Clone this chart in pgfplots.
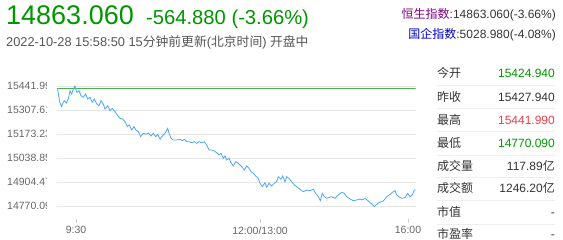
\documentclass[border=0pt]{standalone}
\usepackage{pgfplots}
\pgfplotsset{compat=1.18}
\usepackage{fontspec}
\setmainfont{Liberation Sans}
\newfontfamily\cjk{Noto Sans CJK SC}
\definecolor{upgreen}{RGB}{0,150,0}
\definecolor{txtgray}{RGB}{85,85,85}
\definecolor{dark}{RGB}{51,51,51}
\definecolor{lineblue}{RGB}{77,166,255}
\definecolor{refgreen}{RGB}{76,175,80}
\definecolor{hsipurple}{RGB}{128,0,128}
\definecolor{hsceblue}{RGB}{0,0,204}
\definecolor{highred}{RGB}{245,60,70}
\definecolor{gridgray}{RGB}{230,230,230}
\definecolor{sepgray}{RGB}{238,238,238}
\newcommand\cl[1]{\tikz[baseline=0pt]{\path[use as bounding box] (0pt,-3pt) rectangle (40pt,9pt); \clip (0pt,-3pt) rectangle (40pt,9pt); \node[anchor=base west, inner sep=0pt] at (0pt,0pt) {#1};}}
\begin{document}
\begin{tikzpicture}[x=1pt,y=1pt]
\path[use as bounding box] (0,0) rectangle (563,240);
\begin{axis}[
  at={(57pt,17pt)}, anchor=south west,
  scale only axis, width=358.5pt, height=139pt,
  xmin=0, xmax=358.5, ymin=14677.96, ymax=15454.28,
  axis x line*=bottom, axis y line*=left,
  axis line style={draw=none},
  scaled y ticks=false,
  xtick={19,203,351},
  xticklabels={9:30,12:00/13:00,16:00},
  tick align=inside,
  major tick length=4pt,
  xtick style={draw=black!20, line width=0.8pt},
  ytick={14770.09,14904.47,15038.85,15173.23,15307.61,15441.99},
  yticklabels={\cl{14770.090},\cl{14904.470},\cl{15038.850},\cl{15173.230},\cl{15307.610},\cl{15441.990}},
  ytick style={draw=none},
  ymajorgrids=true,
  major grid style={draw=gridgray, line width=0.8pt},
  yticklabel style={anchor=east, inner sep=0pt, font=\fontsize{10.5}{12}\selectfont, text=black!60},
  xticklabel style={font=\fontsize{10.5}{12}\selectfont, text=black!60},
]
\addplot[refgreen, line width=0.8pt] coordinates {(0,15427.94) (358.5,15427.94)};
\addplot[lineblue, line width=0.8pt] coordinates {
(0.5,15429.14) (2.7,15353.75) (4.5,15328.61) (6,15348.16) (7.3,15361.01) (9.5,15348.16)
(11.3,15370.50) (13,15416.86) (14.7,15398.43) (16.3,15426.35) (18,15441.99) (19.7,15407.92)
(22,15416.86) (24,15388.93) (26.3,15380.00) (28.7,15398.43) (30.7,15370.50) (33,15380.00)
(35.3,15352.07) (37.3,15370.50) (39.7,15342.58) (42,15333.08) (44,15361.01) (46.3,15342.58)
(48,15314.65) (50.7,15333.08) (53,15305.16) (55.3,15318.56) (58,15299.57) (60.3,15281.14)
(63,15262.71) (65.7,15258.80) (68,15243.72) (70.3,15215.80) (72.3,15225.29) (74.7,15197.37)
(77,15215.80) (79,15197.37) (81.3,15187.87) (83.7,15159.95) (86.3,15178.94) (89,15173.35)
(91.3,15180.61) (94,15163.86) (96.3,15178.94) (98.7,15159.95) (100.7,15173.35) (103,15145.43)
(105.3,15163.86) (108,15178.94) (110.7,15206.86) (112,15178.94) (114,15151.01) (116.3,15141.52)
(119.7,15141.52) (123,15145.43) (125.3,15137.61) (127.3,15145.43) (129.7,15132.02) (132,15132.02)
(134.7,15126.44) (137.3,15132.02) (139.7,15123.09) (142,15132.02) (144.7,15126.44) (147.3,15132.02)
(149.7,15113.59) (152,15085.67) (154.7,15085.67) (157.3,15080.08) (159.7,15070.59) (162,15057.74)
(164,15067.24) (166.3,15039.31) (168,15052.16) (169.7,15029.82) (172,15039.31) (174,15014.74)
(176.3,14996.31) (178.7,15020.32) (180.7,15014.74) (183,15001.89) (185.3,14989.05) (187.3,14973.97)
(189.7,14996.31) (192,14983.46) (194,14964.47) (196.3,14955.54) (198.7,14940.46) (201.3,14927.61)
(203,14899.69) (205.3,14880.70) (208,14903.04) (209.7,14877.35) (212,14899.69) (214.7,14884.61)
(217.3,14899.69) (219.7,14908.62) (221.3,14936.55) (224,14922.03) (225.7,14940.46) (228,14908.62)
(229.7,14936.55) (232,14927.61) (234.7,14908.62) (237.3,14890.19) (239.7,14880.70) (243,14866.18)
(246.3,14852.77) (249.7,14862.27) (253,14858.36) (256.3,14866.18) (258.7,14843.84) (261.3,14824.85)
(263.3,14802.51) (265.3,14843.84) (267.3,14824.85) (269.7,14815.91) (271.3,14819.26) (274.7,14824.85)
(278,14815.91) (281.3,14834.34) (284.7,14849.42) (287.3,14843.84) (289.7,14824.85) (293,14812.00)
(296.3,14802.51) (299.7,14806.42) (303,14812.00) (305.3,14806.42) (308,14815.91) (311.3,14800.83)
(314,14787.99) (317.3,14770.09) (320.7,14787.99) (324,14796.92) (326.3,14800.83) (329.7,14824.85)
(333,14838.25) (336.3,14852.77) (338,14858.36) (339.7,14834.34) (342,14824.85) (344.7,14815.91)
(348,14819.26) (350.7,14843.84) (353,14824.85) (355.3,14834.34) (357.3,14862.27) (358.5,14863.06)
};
\end{axis}
% header
\node[anchor=base west, inner sep=0pt, font=\fontsize{27}{30}\selectfont, text=upgreen] at (6,215) {14863.060};
\node[anchor=base west, inner sep=0pt, font=\fontsize{20.2}{24}\selectfont, text=upgreen] at (146,215) {-564.880 (-3.66\%)};
\node[anchor=base west, inner sep=0pt, font=\fontsize{12.8}{15}\selectfont, text=txtgray] at (6,193) {2022-10-28 15:58:50 15{\cjk 分钟前更新}({\cjk 北京时间}) {\cjk 开盘中}};
\node[anchor=base east, inner sep=0pt, font=\fontsize{12}{14}\selectfont, text=dark] at (556,221) {{\color{hsipurple}\cjk 恒生指数}:14863.060(-3.66\%)};
\node[anchor=base east, inner sep=0pt, font=\fontsize{12}{14}\selectfont, text=dark] at (556,201) {{\color{hsceblue}\cjk 国企指数}:5028.980(-4.08\%)};
% right table
\foreach \y in {155,131.7,108.3,85,62.3,39.3,16} {\draw[sepgray, line width=0.8pt] (437,\y) -- (555,\y);}
\tikzset{lab/.style={anchor=base west, inner sep=0pt, font=\fontsize{12}{14}\selectfont\cjk, text=dark},
         val/.style={anchor=base east, inner sep=0pt, font=\fontsize{12}{14}\selectfont, text=dark}}
\node[lab] at (437,162.2) {今开};   \node[val, text=upgreen] at (555,162.2) {15424.940};
\node[lab] at (437,138.8) {昨收};   \node[val] at (555,138.8) {15427.940};
\node[lab] at (437,115.5) {最高};   \node[val, text=highred] at (555,115.5) {15441.990};
\node[lab] at (437,92.8) {最低};    \node[val, text=upgreen] at (555,92.8) {14770.090};
\node[lab] at (437,69.5) {成交量};  \node[val] at (555,69.5) {117.89{\cjk 亿}};
\node[lab] at (437,47.2) {成交额};  \node[val] at (555,47.2) {1246.20{\cjk 亿}};
\node[lab] at (437,23.8) {市值};    \node[val] at (555,23.8) {-};
\node[lab] at (437,1.2) {市盈率};   \node[val] at (555,1.2) {-};
\end{tikzpicture}
\end{document}
